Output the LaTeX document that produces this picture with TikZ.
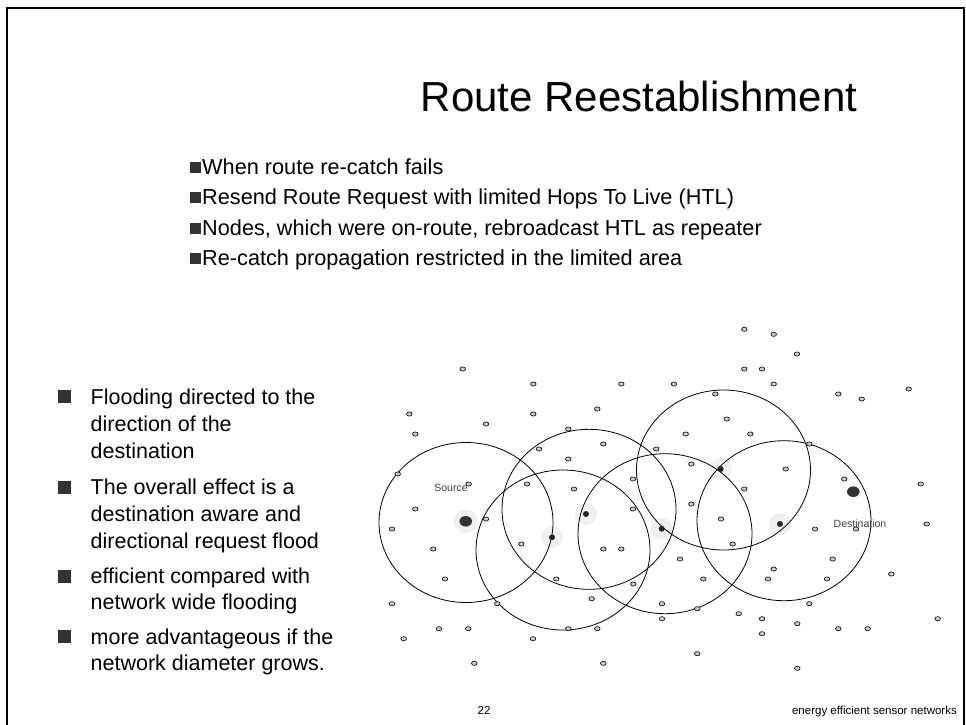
\documentclass[tikz,border=0pt]{standalone}
\usepackage{fontspec}
\setmainfont{Liberation Sans}
\usetikzlibrary{shapes.geometric}

\begin{document}
\begin{tikzpicture}[x=1pt,y=-1pt,
  sensor/.style={ellipse, draw=black, line width=0.6pt, fill=black!20,
    minimum width=5.6pt, minimum height=4.2pt, inner sep=0pt},
  relay/.style={circle, fill=black!85, minimum size=6pt, inner sep=0pt},
  endpoint/.style={ellipse, fill=black!80, minimum width=12.6pt,
    minimum height=10.6pt, inner sep=0pt},
  halo/.style={circle, fill=black!6, minimum size=24pt, inner sep=0pt},
  radioring/.style={draw=black, line width=0.8pt},
  tag/.style={font=\fontsize{10.5}{12}\selectfont, text=black!75, inner sep=0pt},
  topitem/.style={anchor=base west, font=\fontsize{21.7}{26}\selectfont, inner sep=0pt},
  sideitem/.style={anchor=base west, font=\fontsize{21.5}{26}\selectfont, inner sep=0pt},
  topsq/.style={rectangle, fill=black!80, minimum size=11pt, inner sep=0pt},
  sidesq/.style={rectangle, fill=black!80, minimum size=13pt, inner sep=0pt},
  foot/.style={anchor=base, font=\fontsize{11.5}{13}\selectfont, inner sep=0pt}
]
\useasboundingbox (0,0) rectangle (966,724);
\draw[line width=2pt] (7,8) rectangle (964,745);

% heading
\node[anchor=base, font=\fontsize{42}{48}\selectfont, inner sep=0pt] (title)
  at (639,111) {Route Reestablishment};

% upper list
\foreach \t/\yy [count=\i] in {
  When route re-catch fails/174,
  Resend Route Request with limited Hops To Live (HTL)/204.5,
  {Nodes, which were on-route, rebroadcast HTL as repeater}/235,
  Re-catch propagation restricted in the limited area/265.5}{
  \node[topsq] (ts\i) at (195.5,\yy-7) {};
  \node[topitem] (ti\i) at (202,\yy) {\t};
}

% side list, one node per printed line
\foreach \t/\yy [count=\i] in {
  Flooding directed to the/404, direction of the/431, destination/458.5,
  The overall effect is a/494.5, destination aware and/521.5,
  directional request flood/548.5, efficient compared with/583.5,
  network wide flooding/609.5, more advantageous if the/644,
  network diameter grows./670}{
  \node[sideitem] (sl\i) at (90.5,\yy) {\t};
}
\foreach \yy [count=\i] in {404,494.5,583.5,644}{
  \node[sidesq] (ss\i) at (64,\yy-7.5) {};
}

% soft glow behind source and relays
\node[halo] (hs) at (465.7,521.3) {};
\foreach \p [count=\i] in {(552,537.3),(586,514),(661.7,528.7),(720.7,469),(780,524)}{
  \node[halo, minimum size=22pt] (h\i) at \p {};
}

% transmission ranges
\foreach \cx/\cy in {466/522.5, 563/550, 589/509.3, 665/533.7, 723.5/470, 784/520.7}{
  \draw[radioring] (\cx,\cy) ellipse [x radius=87pt, y radius=80pt];
}

% labels
\node[tag] (srclab) at (451,488.3) {Source};
\node[tag] (dstlab) at (860,523.5) {Destination};

% ordinary sensor nodes
\foreach \p [count=\i] in {
  (462.7,369),(533.3,384),(621.3,384),(409.3,414),(533.3,414),(597.3,409),
  (486,424),(415.3,434),(568.3,429),(539,449),(603.3,444),(568.3,459),
  (656.3,449),(397.7,474),(468.7,484),(527,484),(574,489),(633,479),
  (415.3,509),(633,509),
  (744.3,329.3),(773.7,334.3),(797,354),(744.3,369),(762,369),(674,384),
  (773.7,384),(715.3,394),(838.3,394),(861.7,399),(908.7,389),(726.7,419),
  (685.7,434),(750.3,434),(809.3,444),(691.3,464),(785.7,469),(844.3,479),
  (920.7,484),(744.3,489),(691.3,504),
  (486,519),(392,529),(433.3,549),(521.3,544),(603.3,549),(621.3,549),
  (445,579),(556.3,579),(633.3,584),(591.7,598.7),(392,603.7),(497.3,603.7),
  (439,628.7),(468.3,628.7),(568.3,628.7),(597.3,628.7),(403.7,638.7),
  (533,638.7),(474.3,663.3),(603.3,663.3),
  (721,519),(815,529),(856,529),(926.7,524),(732.7,544),(680,559),
  (832.7,559),(773.7,569),(703.3,579),(768,579),(827,579),(891.3,574),
  (662,603.7),(809.3,603.7),(662,618.7),(697.3,608.7),(738.7,613.7),
  (762,618.7),(797.3,623.7),(838.3,628.7),(867.7,628.7),(937.7,618.7),
  (762,633.7),(697.3,653.7),(797.3,668.3)}{
  \node[sensor] (n\i) at \p {};
}

% relays on the old route
\foreach \p [count=\i] in {(552,537.3),(586,514),(661.7,528.7),(720.7,469),(780,524)}{
  \node[relay] (r\i) at \p {};
}

% source and destination
\node[endpoint] (src) at (465.7,521.3) {};
\node[endpoint] (dst) at (853.3,491.7) {};

% footer
\node[foot] (pageno) at (484,714) {22};
\node[foot, anchor=base east] (footer) at (957,714) {energy efficient sensor networks};
\end{tikzpicture}
\end{document}
